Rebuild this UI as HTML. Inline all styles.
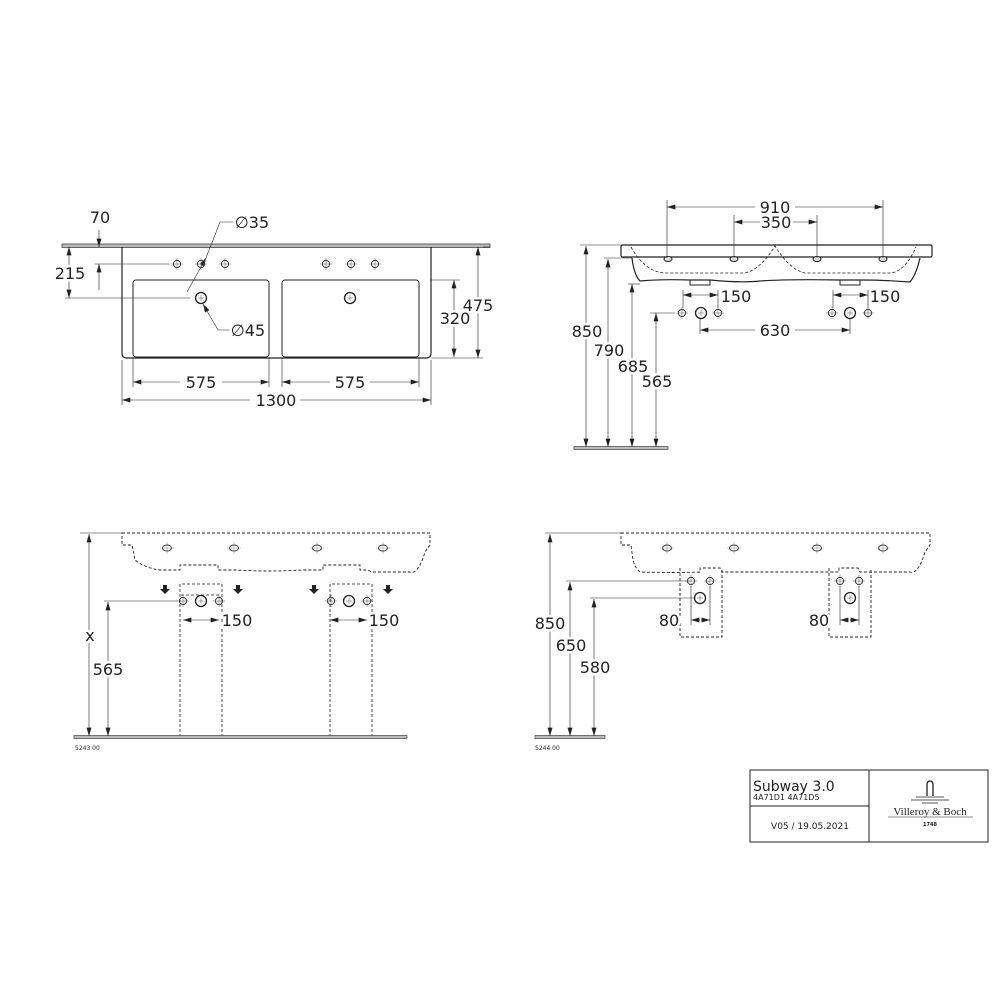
<!DOCTYPE html>
<html><head><meta charset="utf-8"><style>
html,body{margin:0;padding:0;background:#fff}
svg{display:block}
text{font-family:"DejaVu Sans","Liberation Sans",sans-serif;fill:#222}
.d text{paint-order:stroke;stroke:#fff;stroke-width:5px;stroke-linejoin:round}
</style></head><body>
<svg width="1000" height="1000" viewBox="0 0 1000 1000" xmlns="http://www.w3.org/2000/svg">
<defs>
<marker id="a" viewBox="0 0 10 6" refX="10" refY="3" markerWidth="9" markerHeight="5" orient="auto-start-reverse" markerUnits="userSpaceOnUse"><path d="M0,0L10,3L0,6z" fill="#222"/></marker>
<g id="tap"><circle r="3.6" fill="none" stroke="#333" stroke-width="1"/><path d="M-6,0H6M0,-6V6" stroke="#555" stroke-width="0.5"/></g>
<g id="drn"><circle r="5.5" fill="none" stroke="#222" stroke-width="1.3"/><path d="M-3,0H3M0,-3V3" stroke="#555" stroke-width="0.5"/></g>
<g id="ov"><ellipse rx="4.5" ry="3" fill="none" stroke="#333" stroke-width="1"/><path d="M-7,0H7M0,-6V6" stroke="#777" stroke-width="0.4"/></g>
</defs>
<g stroke="#222" fill="none" stroke-width="1">
<!-- TOP LEFT VIEW -->
<rect x="62" y="244" width="428" height="3.5" fill="#bbb" stroke="#444" stroke-width="0.8"/>
<path d="M122,247V353q0,5 5,5H426q5,0 5-5V247" stroke-width="1.2"/>
<rect x="133" y="280" width="136" height="77" rx="3"/>
<rect x="282" y="280" width="137" height="77" rx="3"/>
<g stroke-width="0.6">
<line x1="95" y1="264" x2="170" y2="264"/>
<line x1="65" y1="298" x2="190" y2="298"/>
<line x1="431" y1="280" x2="460" y2="280"/><line x1="431" y1="358" x2="483" y2="358"/>
<line x1="490" y1="247" x2="483" y2="247"/>
<line x1="122" y1="360" x2="122" y2="405"/><line x1="431" y1="360" x2="431" y2="405"/>
<line x1="133" y1="358" x2="133" y2="387"/><line x1="269" y1="358" x2="269" y2="387"/>
<line x1="282" y1="358" x2="282" y2="387"/><line x1="419" y1="358" x2="419" y2="387"/>
<line x1="99" y1="230" x2="99" y2="247" marker-end="url(#a)"/>
<line x1="99" y1="290" x2="99" y2="264" marker-end="url(#a)"/>
<line x1="69" y1="247" x2="69" y2="298" marker-start="url(#a)" marker-end="url(#a)"/>
<line x1="454" y1="280" x2="454" y2="357" marker-start="url(#a)" marker-end="url(#a)"/>
<line x1="478" y1="247" x2="478" y2="358" marker-start="url(#a)" marker-end="url(#a)"/>
<line x1="133" y1="382" x2="180" y2="382" marker-start="url(#a)"/><line x1="222" y1="382" x2="269" y2="382" marker-end="url(#a)"/>
<line x1="282" y1="382" x2="330" y2="382" marker-start="url(#a)"/><line x1="370" y1="382" x2="419" y2="382" marker-end="url(#a)"/>
<line x1="122" y1="400" x2="250" y2="400" marker-start="url(#a)"/><line x1="300" y1="400" x2="431" y2="400" marker-end="url(#a)"/>
<path d="M187,292L206,258" marker-end="url(#a)"/><path d="M206,258L220,222H235"/>
<path d="M230,330H218L203,304" marker-end="url(#a)"/>
</g>
<use href="#tap" x="177" y="264"/><use href="#tap" x="201" y="264"/><use href="#tap" x="225" y="264"/>
<use href="#tap" x="326" y="264"/><use href="#tap" x="351" y="264"/><use href="#tap" x="375" y="264"/>
<use href="#drn" x="201" y="298"/><use href="#drn" x="350" y="298"/>

<!-- TOP RIGHT VIEW -->
<rect x="621" y="245" width="311" height="12" rx="1.5" stroke-width="1.2"/>
<path d="M632,258Q634,275 640,281Q660,279 690,280H710Q740,283 760,281Q790,279 840,280H860Q885,280 910,282Q916,275 920,258" stroke-width="1.2"/>
<rect x="690" y="280" width="20" height="5"/><rect x="840" y="280" width="20" height="5"/>
<path d="M631,247Q645,272 665,273H745Q760,270 775,246Q790,270 805,273H890Q905,272 916,247" stroke-dasharray="3,2" stroke-width="0.8"/>
<g fill="#ddd"><ellipse cx="668" cy="259" rx="4" ry="2.5"/><ellipse cx="734" cy="259" rx="4" ry="2.5"/><ellipse cx="817" cy="259" rx="4" ry="2.5"/><ellipse cx="883" cy="259" rx="4" ry="2.5"/></g>
<rect x="574" y="446.5" width="94" height="3" fill="#bbb" stroke="#444" stroke-width="0.7"/>
<g stroke-width="0.6">
<line x1="667" y1="200" x2="667" y2="258"/><line x1="883" y1="200" x2="883" y2="258"/>
<line x1="734" y1="215" x2="734" y2="258"/><line x1="817" y1="215" x2="817" y2="258"/>
<line x1="667" y1="207" x2="755" y2="207" marker-start="url(#a)"/><line x1="795" y1="207" x2="883" y2="207" marker-end="url(#a)"/>
<line x1="734" y1="222" x2="760" y2="222" marker-start="url(#a)"/><line x1="792" y1="222" x2="817" y2="222" marker-end="url(#a)"/>
<line x1="580" y1="245" x2="621" y2="245"/><line x1="604" y1="258" x2="632" y2="258"/>
<line x1="628" y1="284" x2="640" y2="284"/><line x1="650" y1="313" x2="675" y2="313"/>
<line x1="586" y1="246" x2="586" y2="447" marker-start="url(#a)" marker-end="url(#a)"/>
<line x1="608" y1="259" x2="608" y2="447" marker-start="url(#a)" marker-end="url(#a)"/>
<line x1="632" y1="284" x2="632" y2="447" marker-start="url(#a)" marker-end="url(#a)"/>
<line x1="656" y1="313" x2="656" y2="447" marker-start="url(#a)" marker-end="url(#a)"/>
<line x1="683" y1="290" x2="683" y2="308"/><line x1="718" y1="290" x2="718" y2="308"/>
<line x1="833" y1="290" x2="833" y2="308"/><line x1="868" y1="290" x2="868" y2="308"/>
<line x1="683" y1="295" x2="718" y2="295" marker-start="url(#a)" marker-end="url(#a)"/>
<line x1="833" y1="295" x2="868" y2="295" marker-start="url(#a)" marker-end="url(#a)"/>
<line x1="700" y1="319" x2="700" y2="334"/><line x1="850" y1="319" x2="850" y2="334"/>
<line x1="700" y1="330" x2="755" y2="330" marker-start="url(#a)"/><line x1="795" y1="330" x2="850" y2="330" marker-end="url(#a)"/>
</g>
<use href="#tap" x="682" y="313"/><use href="#drn" x="701" y="313"/><use href="#tap" x="718" y="313"/>
<use href="#tap" x="832" y="313"/><use href="#drn" x="850" y="313"/><use href="#tap" x="868" y="313"/>

<!-- BOTTOM LEFT -->
<path d="M122,533H430V545L425,552Q418,575 410,572H372L368,570H360V565H323V570H302Q270,572 236,570H218V565H180V570H160Q145,568 135,560L132,545H122Z" stroke-dasharray="3,2" stroke-width="0.9"/>
<use href="#ov" x="167" y="548"/><use href="#ov" x="234" y="548"/><use href="#ov" x="317" y="548"/><use href="#ov" x="383" y="548"/>
<path d="M180,737V584H222V737M181,595H221M330,737V584H372V737" stroke-dasharray="3,2" stroke-width="0.8"/>
<rect x="74" y="735.5" width="333" height="3" fill="#bbb" stroke="#444" stroke-width="0.7"/>
<g stroke-width="0.6">
<line x1="80" y1="533" x2="122" y2="533"/>
<line x1="104" y1="601" x2="178" y2="601"/>
<line x1="89" y1="534" x2="89" y2="736" marker-start="url(#a)" marker-end="url(#a)"/>
<line x1="108" y1="602" x2="108" y2="736" marker-start="url(#a)" marker-end="url(#a)"/>
<line x1="183" y1="620" x2="219" y2="620" marker-start="url(#a)" marker-end="url(#a)"/>
<line x1="330" y1="620" x2="367" y2="620" marker-start="url(#a)" marker-end="url(#a)"/>
</g>
<g fill="#222" stroke="none">
<path d="M163,585h4v4h3l-5,5l-5,-5h3z"/><path d="M236,585h4v4h3l-5,5l-5,-5h3z"/>
<path d="M312,585h4v4h3l-5,5l-5,-5h3z"/><path d="M386,585h4v4h3l-5,5l-5,-5h3z"/>
</g>
<use href="#tap" x="183" y="601"/><use href="#drn" x="201" y="601"/><use href="#tap" x="219" y="601"/>
<use href="#tap" x="331" y="601"/><use href="#drn" x="349" y="601"/><use href="#tap" x="367" y="601"/>

<!-- BOTTOM RIGHT -->
<path d="M621,533H930V545L925,552Q918,575 910,572H860L858,568H839V572Q800,572 730,572H722L720,568H700V572Q680,573 640,572Q635,568 633,560L631,545H621Z" stroke-dasharray="3,2" stroke-width="0.9"/>
<use href="#ov" x="667" y="548"/><use href="#ov" x="734" y="548"/><use href="#ov" x="817" y="548"/><use href="#ov" x="883" y="548"/>
<path d="M680,568V637H722V568M829,568V637H871V568" stroke-dasharray="3,2" stroke-width="0.9"/>
<rect x="535" y="735.5" width="70" height="3" fill="#bbb" stroke="#444" stroke-width="0.7"/>
<g stroke-width="0.6">
<line x1="545" y1="533" x2="621" y2="533"/>
<line x1="566" y1="581" x2="690" y2="581"/><line x1="590" y1="598" x2="695" y2="598"/>
<line x1="550" y1="534" x2="550" y2="736" marker-start="url(#a)" marker-end="url(#a)"/>
<line x1="570" y1="582" x2="570" y2="736" marker-start="url(#a)" marker-end="url(#a)"/>
<line x1="594" y1="599" x2="594" y2="736" marker-start="url(#a)" marker-end="url(#a)"/>
<line x1="691" y1="586" x2="691" y2="625"/><line x1="710" y1="586" x2="710" y2="625"/>
<line x1="840" y1="586" x2="840" y2="625"/><line x1="859" y1="586" x2="859" y2="625"/>
<line x1="691" y1="620" x2="700" y2="620" marker-start="url(#a)"/><line x1="701" y1="620" x2="710" y2="620" marker-end="url(#a)"/>
<line x1="840" y1="620" x2="849" y2="620" marker-start="url(#a)"/><line x1="850" y1="620" x2="859" y2="620" marker-end="url(#a)"/>
</g>
<use href="#tap" x="691" y="581"/><use href="#tap" x="710" y="581"/><use href="#drn" x="700" y="598"/>
<use href="#tap" x="840" y="581"/><use href="#tap" x="859" y="581"/><use href="#drn" x="850" y="598"/>

<!-- TITLE BLOCK -->
<rect x="750" y="770" width="238" height="72" stroke-width="1"/>
<line x1="869" y1="770" x2="869" y2="842"/><line x1="750" y1="806" x2="869" y2="806"/>
<path d="M927,796V785q0,-4 3,-4t3,4V796" stroke-width="1.3"/>
<path d="M916,797H944M911,800H949M922,803H938" stroke-width="0.7"/>
<line x1="888" y1="817" x2="973" y2="817" stroke-width="0.6"/>
</g>
<g class="d" font-size="16" text-anchor="middle">
<text x="100" y="223">70</text>
<text x="70" y="279">215</text>
<text x="478" y="311">475</text>
<text x="455" y="324">320</text>
<text x="201" y="388">575</text><text x="350" y="388">575</text>
<text x="276" y="406">1300</text>
<text x="252" y="228">∅35</text>
<text x="248" y="336">∅45</text>
<text x="775" y="213">910</text>
<text x="776" y="228">350</text>
<text x="587" y="337">850</text><text x="609" y="356">790</text>
<text x="633" y="372">685</text><text x="657" y="387">565</text>
<text x="736" y="302">150</text><text x="885" y="302">150</text>
<text x="775" y="336">630</text>
<text x="90" y="641">x</text>
<text x="108" y="675">565</text>
<text x="237" y="626">150</text><text x="384" y="626">150</text>
<text x="550" y="629">850</text><text x="571" y="651">650</text><text x="595" y="673">580</text>
<text x="669" y="626">80</text><text x="819" y="626">80</text>
</g>
<text x="75" y="750" font-size="6">5243 00</text>
<text x="535" y="750" font-size="6">5244 00</text>
<text x="753" y="791" font-size="14">Subway 3.0</text>
<text x="753" y="800" font-size="8">4A71D1 4A71D5</text>
<text x="810" y="829" font-size="9" text-anchor="middle">V05 / 19.05.2021</text>
<text x="930" y="815" font-size="11" text-anchor="middle" style="font-family:'Liberation Serif',serif">Villeroy &amp; Boch</text>
<text x="930" y="826" font-size="5" text-anchor="middle" font-weight="bold">1748</text>
</svg>
</body></html>
